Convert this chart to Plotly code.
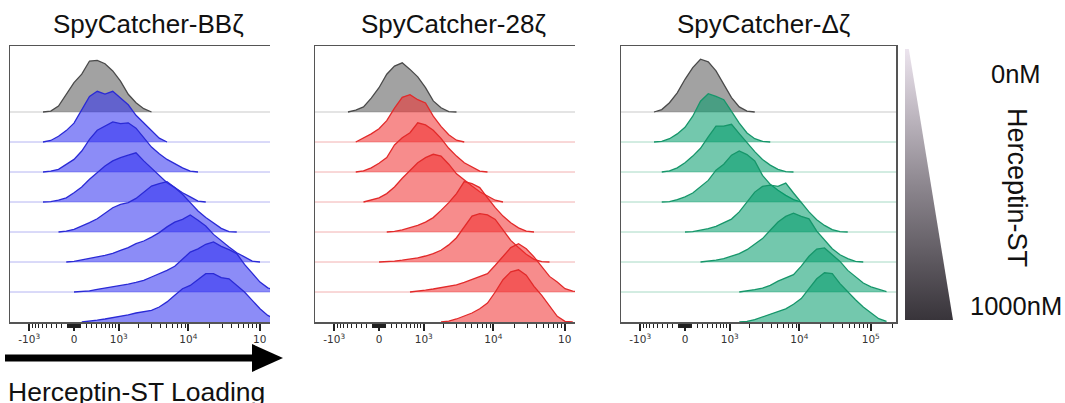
import numpy as np
import plotly.graph_objects as go

# ---------------- data ----------------
COFACTOR = 500.0  # biexponential-like (arcsinh) display scale

PANEL_TITLES = ["SpyCatcher-BBζ", "SpyCatcher-28ζ", "SpyCatcher-Δζ"]
CONC_TOP = "0nM"
CONC_BOTTOM = "1000nM"
GRADIENT_LABEL = "Herceptin-ST"
X_LABEL = "Herceptin-ST Loading"

TICK_VALUES = [-1000, 0, 1000, 10000, 100000]
TICK_TEXT = ["-10<sup>3</sup>", "0", "10<sup>3</sup>", "10<sup>4</sup>", "10<sup>5</sup>"]
TICK_TEXT_CROPPED = ["-10<sup>3</sup>", "0", "10<sup>3</sup>", "10<sup>4</sup>", "10"]
MINOR_TICK_VALUES = ([-900, -800, -700, -600, -500, -400, -300, -200, -100,
                      -90, -80, -70, -60, -50, -40, -30, -20, -10,
                      10, 20, 30, 40, 50, 60, 70, 80, 90,
                      100, 200, 300, 400, 500, 600, 700, 800, 900,
                      2000, 3000, 4000, 5000, 6000, 7000, 8000, 9000,
                      20000, 30000, 40000, 50000, 60000, 70000, 80000, 90000,
                      200000])

# histogram sample positions, in display (arcsinh) channel units
CHANNEL_GRID = [-1.0, -0.75, -0.5, -0.25, 0.0, 0.25, 0.5, 0.75, 1.0, 1.25, 1.5,
                1.75, 2.0, 2.25, 2.5, 2.75, 3.0, 3.25, 3.5, 3.75, 4.0, 4.25,
                4.5, 4.75, 5.0, 5.25, 5.5, 5.75, 6.0, 6.25, 6.5]

# normalized histogram heights (row spacing = 1), top row = 0nM ... bottom = 1000nM
BBZ_HEIGHTS = [
    [0, 0.03, 0.20, 0.59, 0.98, 1.26, 1.70, 1.72, 1.61, 1.37, 1.03, 0.59, 0.31, 0.11, 0, 0, 0, 0, 0, 0, 0, 0, 0, 0, 0, 0, 0, 0, 0, 0, 0],
    [0, 0.05, 0.19, 0.38, 0.63, 1.08, 1.52, 1.69, 1.60, 1.69, 1.47, 1.24, 0.89, 0.63, 0.38, 0.13, 0, 0, 0, 0, 0, 0, 0, 0, 0, 0, 0, 0, 0, 0, 0],
    [0, 0.03, 0.09, 0.26, 0.42, 0.70, 1.09, 1.39, 1.53, 1.67, 1.61, 1.64, 1.46, 1.14, 0.83, 0.61, 0.42, 0.28, 0.14, 0.03, 0, 0, 0, 0, 0, 0, 0, 0, 0, 0, 0],
    [0, 0.01, 0.06, 0.14, 0.31, 0.50, 0.76, 0.98, 1.20, 1.37, 1.48, 1.56, 1.64, 1.37, 1.12, 0.87, 0.64, 0.48, 0.31, 0.17, 0.03, 0, 0, 0, 0, 0, 0, 0, 0, 0, 0],
    [0, 0, 0, 0.03, 0.09, 0.19, 0.31, 0.44, 0.64, 0.81, 0.92, 0.98, 1.12, 1.31, 1.53, 1.61, 1.68, 1.48, 1.26, 0.98, 0.70, 0.48, 0.31, 0.12, 0.01, 0, 0, 0, 0, 0, 0],
    [0, 0, 0, 0, 0.02, 0.07, 0.11, 0.17, 0.22, 0.29, 0.39, 0.48, 0.61, 0.70, 0.83, 0.98, 1.17, 1.33, 1.42, 1.57, 1.39, 1.20, 0.92, 0.70, 0.50, 0.31, 0.17, 0.03, 0, 0, 0],
    [0, 0, 0, 0, 0, 0.01, 0.04, 0.09, 0.13, 0.17, 0.20, 0.26, 0.32, 0.39, 0.50, 0.61, 0.72, 0.86, 1.11, 1.33, 1.44, 1.59, 1.67, 1.52, 1.41, 1.28, 0.92, 0.61, 0.33, 0.14, 0.05],
    [0, 0, 0, 0, 0, 0, 0.02, 0.06, 0.10, 0.14, 0.19, 0.24, 0.30, 0.34, 0.39, 0.50, 0.67, 0.89, 1.11, 1.22, 1.41, 1.61, 1.61, 1.48, 1.44, 1.22, 1.00, 0.72, 0.44, 0.22, 0.10],
]
CD28Z_HEIGHTS = [
    [0, 0.06, 0.17, 0.46, 0.81, 1.26, 1.53, 1.64, 1.42, 1.17, 0.81, 0.37, 0.14, 0.01, 0, 0, 0, 0, 0, 0, 0, 0, 0, 0, 0, 0, 0, 0, 0, 0, 0],
    [0, 0, 0.13, 0.27, 0.44, 0.71, 1.13, 1.49, 1.58, 1.41, 1.30, 0.86, 0.52, 0.24, 0.06, 0, 0, 0, 0, 0, 0, 0, 0, 0, 0, 0, 0, 0, 0, 0, 0],
    [0, 0, 0.04, 0.14, 0.29, 0.48, 0.90, 1.14, 1.31, 1.64, 1.57, 1.39, 1.12, 0.79, 0.53, 0.31, 0.17, 0.03, 0, 0, 0, 0, 0, 0, 0, 0, 0, 0, 0, 0, 0],
    [0, 0, 0, 0.06, 0.14, 0.28, 0.50, 0.79, 1.06, 1.31, 1.48, 1.59, 1.53, 1.26, 0.94, 0.72, 0.53, 0.34, 0.20, 0.06, 0, 0, 0, 0, 0, 0, 0, 0, 0, 0, 0],
    [0, 0, 0, 0, 0, 0, 0.02, 0.07, 0.14, 0.22, 0.33, 0.48, 0.72, 0.98, 1.28, 1.68, 1.61, 1.48, 1.14, 0.81, 0.53, 0.31, 0.14, 0.03, 0, 0, 0, 0, 0, 0, 0],
    [0, 0, 0, 0, 0, 0.01, 0.03, 0.06, 0.09, 0.14, 0.20, 0.28, 0.39, 0.57, 0.81, 1.17, 1.53, 1.61, 1.57, 1.42, 1.09, 0.72, 0.48, 0.26, 0.09, 0.01, 0, 0, 0, 0, 0],
    [0, 0, 0, 0, 0, 0, 0, 0, 0, 0.02, 0.06, 0.10, 0.14, 0.19, 0.24, 0.32, 0.41, 0.50, 0.61, 0.89, 1.19, 1.48, 1.61, 1.44, 1.17, 0.83, 0.52, 0.33, 0.11, 0.03, 0],
    [0, 0, 0, 0, 0, 0, 0, 0, 0, 0, 0, 0, 0, 0.03, 0.10, 0.19, 0.30, 0.44, 0.63, 1.00, 1.41, 1.67, 1.74, 1.56, 1.19, 0.89, 0.56, 0.19, 0.02, 0, 0],
]
DZ_HEIGHTS = [
    [0, 0.08, 0.31, 0.64, 1.09, 1.48, 1.76, 1.67, 1.37, 0.92, 0.48, 0.17, 0.03, 0, 0, 0, 0, 0, 0, 0, 0, 0, 0, 0, 0, 0, 0, 0, 0, 0, 0],
    [0, 0.02, 0.11, 0.27, 0.49, 0.86, 1.36, 1.61, 1.52, 1.41, 1.02, 0.63, 0.30, 0.11, 0.02, 0, 0, 0, 0, 0, 0, 0, 0, 0, 0, 0, 0, 0, 0, 0, 0],
    [0, 0, 0.04, 0.14, 0.31, 0.53, 0.79, 1.17, 1.53, 1.53, 1.59, 1.28, 0.98, 0.68, 0.42, 0.23, 0.09, 0.01, 0, 0, 0, 0, 0, 0, 0, 0, 0, 0, 0, 0, 0],
    [0, 0, 0.01, 0.08, 0.17, 0.30, 0.50, 0.72, 1.06, 1.26, 1.56, 1.70, 1.58, 1.37, 0.89, 0.59, 0.39, 0.22, 0.08, 0, 0, 0, 0, 0, 0, 0, 0, 0, 0, 0, 0],
    [0, 0, 0, 0, 0, 0.01, 0.06, 0.11, 0.19, 0.30, 0.43, 0.67, 1.00, 1.33, 1.52, 1.56, 1.52, 1.63, 1.30, 0.97, 0.67, 0.41, 0.22, 0.08, 0.01, 0, 0, 0, 0, 0, 0],
    [0, 0, 0, 0, 0, 0, 0, 0.02, 0.06, 0.11, 0.19, 0.28, 0.41, 0.59, 0.78, 1.06, 1.33, 1.52, 1.63, 1.52, 1.44, 1.03, 0.72, 0.44, 0.24, 0.11, 0.02, 0, 0, 0, 0],
    [0, 0, 0, 0, 0, 0, 0, 0, 0, 0, 0, 0, 0.03, 0.08, 0.13, 0.22, 0.36, 0.47, 0.58, 0.86, 1.19, 1.43, 1.47, 1.24, 1.02, 0.72, 0.50, 0.30, 0.17, 0.08, 0.01],
    [0, 0, 0, 0, 0, 0, 0, 0, 0, 0, 0, 0, 0.02, 0.08, 0.17, 0.26, 0.33, 0.44, 0.59, 0.78, 1.11, 1.44, 1.64, 1.61, 1.28, 1.00, 0.74, 0.50, 0.30, 0.11, 0.02],
]
PANEL_HEIGHTS = [BBZ_HEIGHTS, CD28Z_HEIGHTS, DZ_HEIGHTS]

# ---------------- style ----------------
W, H = 1065, 403
FONT = "Liberation Sans, Arial, Helvetica, sans-serif"
TICK_FONT = "DejaVu Sans, Verdana, sans-serif"

# pixel layout of the three panels (left, right, top, bottom)
PANEL_PX = [(10, 270, 46, 322), (315, 575, 46, 322), (621, 896, 46, 322)]
ZERO_OFFSET_PX = 64.0   # distance from panel left edge to the 0 tick
PX_PER_CHANNEL = 31.0
ROW_PX = 30.0

GRAY_STYLE = dict(fill="rgba(95,95,95,0.58)", line="#4a4a4a", base="#c9c9c9")
PANEL_STYLE = [
    dict(fill="rgba(45,45,240,0.55)", line="#2a2ad6", base="#b4b4f2"),
    dict(fill="rgba(240,45,45,0.55)", line="#e22a2a", base="#f2b0b0"),
    dict(fill="rgba(0,155,105,0.55)", line="#16966a", base="#a6d9c4"),
]


def to_channel(v):
    return np.arcsinh(np.asarray(v, dtype=float) / COFACTOR)


fig = go.Figure()
n_rows = 8
for p, heights in enumerate(PANEL_HEIGHTS):
    sfx = "" if p == 0 else str(p + 1)
    xa, ya = "x" + sfx, "y" + sfx
    style = PANEL_STYLE[p]
    for r, hs in enumerate(heights):
        base = n_rows - 1 - r
        st = GRAY_STYLE if r == 0 else style
        idx = [i for i, h in enumerate(hs) if h > 0]
        i0 = max(idx[0] - 1, 0)
        i1 = min(idx[-1] + 1, len(hs) - 1)
        xs = CHANNEL_GRID[i0:i1 + 1]
        ys = [base + h for h in hs[i0:i1 + 1]]
        fig.add_trace(go.Scatter(
            x=[xs[0]] + xs + [xs[-1]], y=[base] + ys + [base],
            fill="toself", fillcolor=st["fill"], mode="lines",
            line=dict(width=0), hoverinfo="skip", showlegend=False,
            xaxis=xa, yaxis=ya))
        fig.add_trace(go.Scatter(
            x=xs, y=ys, mode="lines", line=dict(color=st["line"], width=1.3),
            hoverinfo="skip", showlegend=False, xaxis=xa, yaxis=ya))

# gradient triangle (concentration legend)
fig.add_trace(go.Scatter(
    x=[0, 1, 0.08, 0, 0], y=[0, 0, 1, 1, 0], mode="lines", fill="toself",
    line=dict(width=0),
    fillgradient=dict(type="vertical", start=0, stop=1,
                      colorscale=[[0, "#38343a"], [0.5, "#8d878f"], [1, "#ece4ee"]]),
    hoverinfo="skip", showlegend=False, xaxis="x4", yaxis="y4"))

layout = dict(
    width=W, height=H, margin=dict(l=0, r=0, t=0, b=0),
    paper_bgcolor="white", plot_bgcolor="white", showlegend=False,
    font=dict(family=FONT, color="#111"),
)

shapes = []
annotations = []
tick_ch = list(to_channel(TICK_VALUES))
minor_ch = list(to_channel(MINOR_TICK_VALUES))
for p, (l, r, t, b) in enumerate(PANEL_PX):
    sfx = "" if p == 0 else str(p + 1)
    xr0 = -ZERO_OFFSET_PX / PX_PER_CHANNEL
    xr1 = (r - l - ZERO_OFFSET_PX) / PX_PER_CHANNEL
    yr1 = (b - t) / ROW_PX
    layout["xaxis" + sfx] = dict(
        domain=[l / W, r / W], range=[xr0, xr1], anchor="y" + sfx,
        showgrid=False, zeroline=False, showline=True, linecolor="#555",
        linewidth=1.5, mirror=True,
        tickmode="array", tickvals=tick_ch,
        ticktext=TICK_TEXT if p == 2 else TICK_TEXT_CROPPED,
        ticks="outside", ticklen=7, tickwidth=1.8, tickcolor="#222",
        tickfont=dict(family=TICK_FONT, size=10.5, color="#333"),
        minor=dict(tickmode="array", tickvals=minor_ch, ticks="outside",
                   ticklen=4.5, tickwidth=1.1, tickcolor="#222"),
        fixedrange=True,
    )
    layout["yaxis" + sfx] = dict(
        domain=[1 - b / H, 1 - t / H], range=[0, yr1], anchor="x" + sfx,
        showgrid=False, zeroline=False, showticklabels=False, ticks="",
        showline=True, linecolor="#555", linewidth=1.5,
        mirror=(p == 2), fixedrange=True,
    )
    base_color = PANEL_STYLE[p]["base"]
    for rr in range(1, n_rows):
        base = n_rows - 1 - rr
        if base <= 0:
            continue
        shapes.append(dict(type="line", xref="x" + sfx + " domain", yref="y" + sfx,
                           x0=0, x1=1, y0=base, y1=base, layer="below",
                           line=dict(color=base_color, width=1)))
    shapes.append(dict(type="line", xref="x" + sfx + " domain", yref="y" + sfx,
                       x0=0, x1=1, y0=n_rows - 1, y1=n_rows - 1, layer="below",
                       line=dict(color=GRAY_STYLE["base"], width=1)))

layout["xaxis4"] = dict(domain=[905 / W, 953 / W], range=[0, 1], visible=False,
                        anchor="y4", fixedrange=True)
layout["yaxis4"] = dict(domain=[1 - 320 / H, 1 - 49 / H], range=[0, 1], visible=False,
                        anchor="x4", fixedrange=True)

# titles
TITLE_X = [148, 453, 763]
for title, cx in zip(PANEL_TITLES, TITLE_X):
    annotations.append(dict(text=title, x=cx / W, y=1 - 24 / H, xref="paper", yref="paper",
                            xanchor="center", yanchor="middle", showarrow=False,
                            font=dict(size=26, family=FONT, color="#111")))

annotations.append(dict(text=X_LABEL, x=6 / W, y=1 - 392 / H, xref="paper", yref="paper",
                        xanchor="left", yanchor="middle", showarrow=False,
                        font=dict(size=26.5, family=FONT, color="#111")))
annotations.append(dict(text=CONC_TOP, x=1016 / W, y=1 - 74 / H, xref="paper", yref="paper",
                        xanchor="center", yanchor="middle", showarrow=False,
                        font=dict(size=25.5, family=FONT, color="#111")))
annotations.append(dict(text=CONC_BOTTOM, x=1016 / W, y=1 - 306 / H, xref="paper", yref="paper",
                        xanchor="center", yanchor="middle", showarrow=False,
                        font=dict(size=25.5, family=FONT, color="#111")))
annotations.append(dict(text=GRADIENT_LABEL, x=1017 / W, y=1 - 187 / H, xref="paper", yref="paper",
                        xanchor="center", yanchor="middle", showarrow=False, textangle=90,
                        font=dict(size=27, family=FONT, color="#111")))

# loading arrow
ay = 1 - 358 / H
shapes.append(dict(type="line", xref="paper", yref="paper", x0=5 / W, x1=258 / W,
                   y0=ay, y1=ay, line=dict(color="black", width=7)))
shapes.append(dict(type="path", xref="paper", yref="paper",
                   path=f"M {252 / W} {1 - 344 / H} L {283 / W} {ay} L {252 / W} {1 - 372 / H} Z",
                   fillcolor="black", line=dict(color="black", width=0)))

layout["shapes"] = shapes
layout["annotations"] = annotations
fig.update_layout(**layout)
fig.write_html("out.html", config={"displayModeBar": False, "staticPlot": True},
               post_script="document.body.style.margin='0';document.body.style.overflow='hidden';")
